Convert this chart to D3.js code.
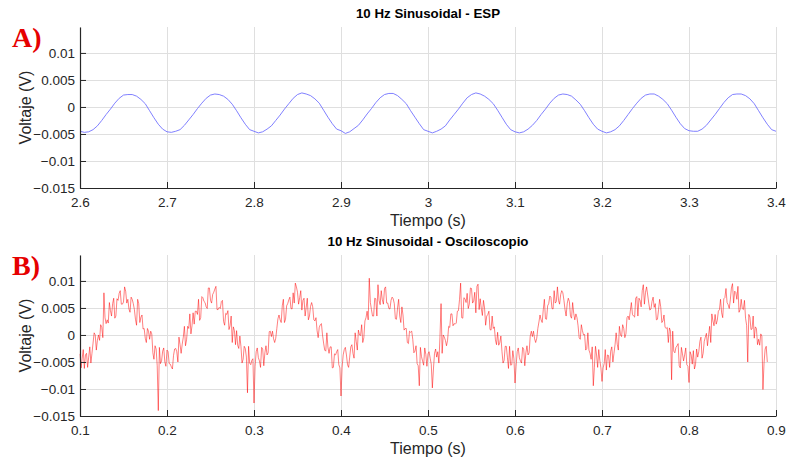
<!DOCTYPE html>
<html>
<head>
<meta charset="utf-8">
<script src="https://cdn.jsdelivr.net/npm/d3@7"></script>
<style>
  html, body { margin: 0; padding: 0; background: #fff; }
  text { font-family: Arial, "Liberation Sans", Helvetica, sans-serif; }
</style>
</head>
<body>
<div id="vis"></div>
<script>
// ---- data ----
// panel A: ESP samples (V), every 5 ms from 2.6 s
const espStart = 2.6;
const espStep = 0.005;
const espVolts = [
  -0.0045,-0.0047,-0.0046,-0.0042,-0.0035,-0.0025,-0.0014,-0.0004,0.0007,0.0016,0.0022,0.0023,0.0023,0.0020,0.0014,0.0006,-0.0007,-0.0020,-0.0032,-0.0041,
  -0.0046,-0.0047,-0.0045,-0.0042,-0.0034,-0.0024,-0.0014,-0.0003,0.0007,0.0016,0.0022,0.0024,0.0023,0.0020,0.0014,0.0005,-0.0007,-0.0020,-0.0032,-0.0042,
  -0.0045,-0.0048,-0.0046,-0.0041,-0.0035,-0.0025,-0.0015,-0.0004,0.0006,0.0016,0.0023,0.0026,0.0024,0.0021,0.0015,0.0007,-0.0006,-0.0019,-0.0031,-0.0041,
  -0.0044,-0.0049,-0.0046,-0.0040,-0.0034,-0.0024,-0.0013,-0.0003,0.0008,0.0017,0.0023,0.0025,0.0025,0.0021,0.0014,0.0006,-0.0007,-0.0019,-0.0031,-0.0042,
  -0.0045,-0.0048,-0.0045,-0.0041,-0.0035,-0.0024,-0.0014,-0.0004,0.0007,0.0017,0.0023,0.0026,0.0024,0.0020,0.0014,0.0006,-0.0006,-0.0019,-0.0032,-0.0042,
  -0.0046,-0.0048,-0.0046,-0.0041,-0.0034,-0.0025,-0.0014,-0.0004,0.0007,0.0016,0.0022,0.0024,0.0023,0.0020,0.0013,0.0005,-0.0007,-0.0020,-0.0032,-0.0041,
  -0.0045,-0.0048,-0.0046,-0.0042,-0.0035,-0.0025,-0.0014,-0.0003,0.0007,0.0016,0.0022,0.0024,0.0024,0.0020,0.0014,0.0006,-0.0006,-0.0019,-0.0031,-0.0040,
  -0.0044,-0.0045,-0.0045,-0.0041,-0.0034,-0.0024,-0.0014,-0.0003,0.0008,0.0017,0.0023,0.0024,0.0024,0.0021,0.0015,0.0006,-0.0007,-0.0020,-0.0032,-0.0042,
  -0.0045
];

// panel B: oscilloscope samples, every 1.25 ms from 0.1 s, in units of 0.1 mV
const oscStart = 0.1;
const oscStep = 0.00125;
const oscUnit = 1e-4;
const oscRaw = [
  // 0.1
  -35,-61,-43,-27,-62,-37,-34,-60,-41,-22,-52,-34,-15,4,0,-28,-10,0,-10,19,14,-5,78,32,21,28,22,60,45,35,58,68,31,35,67,64,77,82,57,57,
  61,89,81,59,66,48,42,70,66,58,47,29,18,66,58,23,33,37,11,12,-6,-14,12,7,-8,7,2,-33,-45,-20,-26,-57,-140,-23,-53,-48,-30,-24,-50,-58,
  // 0.2
  -28,-31,-53,-54,-59,-63,-38,-26,-25,-31,-50,-4,-18,-34,-17,-4,16,-20,-9,16,12,39,2,17,41,20,44,44,38,66,27,32,71,69,62,60,52,49,87,87,
  64,59,75,79,85,90,47,47,51,49,62,64,25,18,40,38,45,10,17,35,-14,15,8,-18,8,-19,-25,-2,-21,-52,-45,-21,-25,-41,-107,-21,-52,-55,-47,-44,
  // 0.3
  -126,-58,-31,-24,-42,-48,-60,-23,-26,-57,-33,-20,-37,-33,6,7,-3,7,-7,-14,-6,12,30,37,28,23,54,66,23,29,54,58,65,70,49,48,78,59,96,89,
  79,57,69,82,46,64,68,35,51,68,28,35,53,60,52,28,26,32,8,-5,14,19,21,0,-15,-28,-30,4,-23,-34,-22,-22,-61,-60,-35,-37,-31,-27,-55,-61,
  // 0.4
  -113,-61,-37,-27,-23,-37,-55,-60,-41,-22,-18,-34,-43,4,-12,-28,9,0,-1,19,-14,-5,26,32,44,28,105,60,47,35,35,68,67,35,93,64,56,82,65,57,
  86,89,59,59,49,48,64,70,67,58,30,29,50,66,35,23,52,37,9,12,12,-14,-16,7,5,7,-8,-33,-30,-20,-53,-57,-94,-23,-40,-48,-56,-24,-36,-58,
  // 0.5
  -35,-31,-43,-54,-98,-63,-34,-26,-41,-31,-52,-4,58,-34,0,-4,-10,-20,-10,16,14,39,39,17,21,20,22,44,45,66,96,32,31,69,67,60,77,49,57,87,
  86,59,63,79,41,90,94,47,67,49,36,64,50,18,35,38,44,10,9,35,12,15,-9,-18,5,-19,-14,-2,-30,-52,-47,-21,-21,-41,-62,-21,-56,-55,-29,-44,
  // 0.6
  -89,-58,-31,-24,-42,-48,-52,-23,-26,-57,-33,-20,-37,-33,-2,7,-3,7,-7,-14,-6,12,24,37,28,23,47,66,30,29,54,58,72,70,49,48,82,59,62,89,
  64,57,75,82,78,64,47,35,58,68,62,35,31,60,40,28,39,32,17,-5,-8,19,8,0,1,-28,-25,4,-28,-34,-45,-22,-94,-60,-21,-37,-60,-27,-47,-61,
  // 0.7
  -86,-61,-53,-27,-65,-37,-38,-60,-30,-22,-50,-34,-18,4,-17,-28,16,0,-3,19,12,-5,2,32,35,28,44,60,38,35,33,68,71,35,68,64,52,82,93,57,
  79,89,74,59,46,48,62,70,51,58,28,29,47,66,52,23,26,37,14,12,14,-14,13,7,-83,7,-30,-33,-23,-20,-16,-57,-61,-23,-35,-48,-37,-24,-55,-58,
  // 0.8
  -88,-31,-37,-54,-29,-63,-55,-26,-41,-31,-12,-4,-43,-34,-12,-4,3,-20,-1,16,-14,39,26,17,38,20,27,44,47,66,41,32,67,69,86,60,56,49,65,87,
  95,59,81,79,66,90,42,47,66,49,47,64,31,18,-50,38,33,10,11,35,-6,15,12,-18,-8,-19,2,-2,-101,-52,-26,-21,-50
];
const oscVolts = oscRaw.map(v => v * oscUnit);

const yTicks = [-0.015, -0.01, -0.005, 0, 0.005, 0.01];
const espTicks = [2.6, 2.7, 2.8, 2.9, 3.0, 3.1, 3.2, 3.3, 3.4];
const oscTicks = [0.1, 0.2, 0.3, 0.4, 0.5, 0.6, 0.7, 0.8, 0.9];

// ---- drawing ----
const W = 788, H = 463;
const svg = d3.select("#vis").append("svg")
  .attr("width", W)
  .attr("height", H)
  .style("display", "block");

svg.append("rect").attr("width", W).attr("height", H).attr("fill", "#fff");

const left = 80, right = 776;
const axisColor = "#262626";
const gridColor = "#dfdfdf";

function drawPanel(cfg) {
  const x = d3.scaleLinear().domain(cfg.xDomain).range([left, right]);
  const y = d3.scaleLinear().domain([-0.015, 0.0148]).range([cfg.bottom, cfg.top]);
  const g = svg.append("g");

  // grid
  g.selectAll(".vg").data(cfg.xTicks).enter().append("line")
    .attr("x1", d => x(d) + 0.5).attr("x2", d => x(d) + 0.5)
    .attr("y1", cfg.top).attr("y2", cfg.bottom)
    .attr("stroke", gridColor).attr("stroke-width", 1);
  g.selectAll(".hg").data(yTicks).enter().append("line")
    .attr("x1", left).attr("x2", right)
    .attr("y1", d => Math.round(y(d)) + 0.5).attr("y2", d => Math.round(y(d)) + 0.5)
    .attr("stroke", gridColor).attr("stroke-width", 1);

  // signal
  const line = d3.line()
    .x((d, i) => x(cfg.start + i * cfg.step))
    .y(d => y(d));
  g.append("path")
    .datum(cfg.values)
    .attr("fill", "none")
    .attr("stroke", cfg.color)
    .attr("stroke-width", cfg.width)
    .attr("stroke-linejoin", "round")
    .attr("d", line);

  // axes
  const xAxis = g.append("g")
    .attr("transform", `translate(0,${cfg.bottom})`)
    .call(d3.axisBottom(x).tickValues(cfg.xTicks).tickFormat(d3.format("~g"))
      .tickSizeInner(-6).tickSizeOuter(0).tickPadding(9));
  const yAxis = g.append("g")
    .attr("transform", `translate(${left},0)`)
    .call(d3.axisLeft(y).tickValues(yTicks).tickFormat(d3.format("~g"))
      .tickSizeInner(-6).tickSizeOuter(0).tickPadding(5));

  [xAxis, yAxis].forEach(a => {
    a.select(".domain").attr("stroke", axisColor).attr("stroke-width", 1.2);
    a.selectAll(".tick line").attr("stroke", axisColor);
    a.selectAll(".tick text")
      .attr("fill", axisColor)
      .style("font-size", "13.5px")
      .style("font-family", "Arial, 'Liberation Sans', sans-serif");
  });

  // titles and labels
  g.append("text")
    .attr("x", (left + right) / 2).attr("y", cfg.top - 9)
    .attr("text-anchor", "middle")
    .attr("font-weight", "bold").attr("font-size", 13.3)
    .attr("fill", "#000")
    .text(cfg.title);

  g.append("text")
    .attr("x", (left + right) / 2).attr("y", cfg.bottom + 38)
    .attr("text-anchor", "middle")
    .attr("font-size", 16).attr("fill", axisColor)
    .text("Tiempo (s)");

  g.append("text")
    .attr("transform", `translate(31,${(cfg.top + cfg.bottom) / 2}) rotate(-90)`)
    .attr("text-anchor", "middle")
    .attr("font-size", 16).attr("fill", axisColor)
    .text("Voltaje (V)");

  g.append("text")
    .attr("x", 12).attr("y", cfg.top + 20)
    .attr("fill", "#e60000")
    .attr("font-weight", "bold")
    .attr("font-size", 28)
    .style("font-family", "'Liberation Serif', 'Times New Roman', serif")
    .text(cfg.letter);
}

drawPanel({
  top: 27, bottom: 188,
  xDomain: [2.6, 3.4], xTicks: espTicks,
  start: espStart, step: espStep, values: espVolts,
  color: "#7272ff", width: 0.9,
  title: "10 Hz Sinusoidal - ESP", letter: "A)"
});

drawPanel({
  top: 255, bottom: 416,
  xDomain: [0.1, 0.9], xTicks: oscTicks,
  start: oscStart, step: oscStep, values: oscVolts,
  color: "#ff0000", width: 0.5,
  title: "10 Hz Sinusoidal - Osciloscopio", letter: "B)"
});
</script>
</body>
</html>
